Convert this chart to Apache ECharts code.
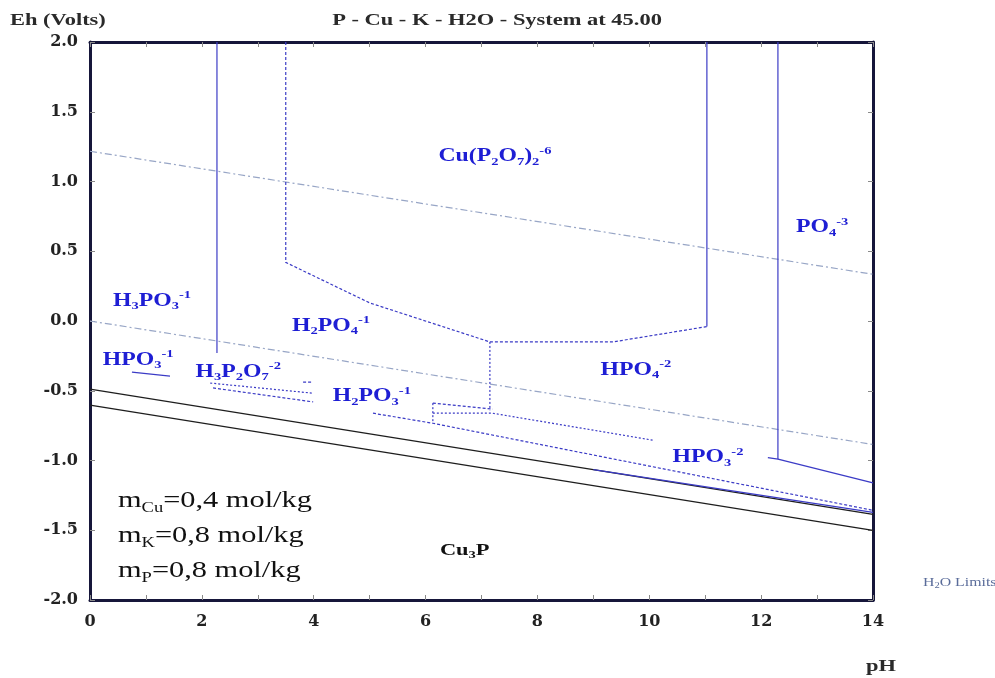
<!DOCTYPE html>
<html>
<head>
<meta charset="utf-8">
<script src="https://cdn.jsdelivr.net/npm/echarts@6/dist/echarts.min.js"></script>
<style>
  html, body { margin: 0; padding: 0; background: #ffffff; }
  #chart { width: 995px; height: 678px; }
</style>
</head>
<body>
<div id="chart"></div>
<script>
// Axis tick labels
const phTicks = [0, 2, 4, 6, 8, 10, 12, 14];
const ehTicks = [-2.0, -1.5, -1.0, -0.5, 0.0, 0.5, 1.0, 1.5, 2.0];

// Water stability limits, [pH, Eh]
const h2oUpper = [[0, 1.217], [14, 0.335]];
const h2oLower = [[0, 0.0], [14, -0.885]];

// Cu3P boundaries
const cu3pUpper = [[0, -0.489], [14, -1.386]];
const cu3pLower = [[0, -0.603], [14, -1.501]];

// Aqueous species boundaries
const h3po3Edge = [[2.27, 2.0], [2.27, -0.23]];
const cuComplexEdge = [[3.5, 2.0], [3.5, 0.42], [5.0, 0.13], [7.15, -0.15], [9.35, -0.15], [11.03, -0.04]];
const cuComplexRight = [[11.03, -0.04], [11.03, 2.0]];
const hpo4Edge = [[7.15, -0.15], [7.15, -0.64]];
const po4Edge = [[12.3, 2.0], [12.3, -0.99]];
const po4Lower = [[12.12, -0.98], [12.3, -0.99], [14, -1.16]];
const hpo3Mark = [[0.75, -0.366], [1.43, -0.395]];
const pyroUpper = [[2.15, -0.445], [3.97, -0.517]];
const pyroLower = [[2.2, -0.48], [3.99, -0.58]];
const pyroDash = [[3.81, -0.438], [3.97, -0.438]];
const h2po3Upper = [[6.13, -0.589], [7.2, -0.632]];
const h2po3Mid = [[6.13, -0.661], [7.2, -0.661], [10.07, -0.855]];
const h2po3Lower = [[5.06, -0.661], [6.13, -0.733], [14, -1.357]];
const h2po3Tick = [[6.13, -0.589], [6.13, -0.733]];
const hpo3Lower = [[9.0, -1.066], [14, -1.372]];

// Aqueous field names (rich-text markup) and anchors [pH, Eh]
const aqNames = [
  '{b|Cu(P}{s|2}{b|O}{s|7}{b|)}{s|2}{p|-6}',
  '{b|PO}{s|4}{p|-3}',
  '{b|H}{s|3}{b|PO}{s|3}{p|-1}',
  '{b|H}{s|2}{b|PO}{s|4}{p|-1}',
  '{b|HPO}{s|3}{p|-1}',
  '{b|H}{s|3}{b|P}{s|2}{b|O}{s|7}{p|-2}',
  '{b|H}{s|2}{b|PO}{s|3}{p|-1}',
  '{b|HPO}{s|4}{p|-2}',
  '{b|HPO}{s|3}{p|-2}'
];
const aqPos = [
  [7.24, 1.18], [13.09, 0.67], [1.11, 0.144], [4.31, -0.036], [0.86, -0.28],
  [2.65, -0.366], [5.04, -0.54], [9.76, -0.352], [11.05, -0.977]
];

// Solid field
const solidNames = ['{b|Cu}{s|3}{b|P}'];
const solidPos = [[6.7, -1.645]];

const textScale = 1.32;
const serif = 'Liberation Serif';

function richStyles(size, weight, color) {
  const sub = Math.round(size * 0.62);
  return {
    b: { fontSize: size, fontFamily: serif, fontWeight: weight, fill: color, lineHeight: size + 4, verticalAlign: 'middle' },
    s: { fontSize: sub, fontFamily: serif, fontWeight: weight, fill: color, lineHeight: size + 4, verticalAlign: 'bottom' },
    p: { fontSize: sub, fontFamily: serif, fontWeight: weight, fill: color, lineHeight: size + 4, verticalAlign: 'top' }
  };
}

function labelSeries(names, positions, color, size) {
  return {
    type: 'custom',
    coordinateSystem: 'cartesian2d',
    xAxisIndex: 0, yAxisIndex: 0,
    clip: false,
    silent: true,
    z: 20,
    data: positions.map((p, i) => [p[0], p[1], i]),
    renderItem: function (params, api) {
      const pt = api.coord([api.value(0), api.value(1)]);
      return {
        type: 'text',
        x: pt[0], y: pt[1],
        scaleX: textScale,
        style: {
          text: names[api.value(2)],
          fill: color,
          align: 'center',
          verticalAlign: 'middle',
          rich: richStyles(size, 'bold', color)
        }
      };
    }
  };
}

function boundary(data, color, type, width) {
  return {
    type: 'line',
    data: data,
    showSymbol: false,
    symbol: 'none',
    silent: true,
    animation: false,
    lineStyle: { color: color, type: type, width: width },
    z: 5
  };
}

const blue = '#3b3bc6';
const h2oColor = '#98a6c6';
const dashDot = [7, 3, 2, 3];

const chart = echarts.init(document.getElementById('chart'), null, { renderer: 'canvas' });

const axisLineStyle = { color: '#16163a', width: 3 };
const tickStyle = { color: '#8a8a8a', width: 1 };

chart.setOption({
  animation: false,
  backgroundColor: '#ffffff',
  grid: { left: 90, right: 122, top: 42, bottom: 78, containLabel: false },
  xAxis: [
    {
      type: 'value', min: 0, max: 14, interval: 1, position: 'bottom',
      axisLine: { show: true, onZero: false, lineStyle: axisLineStyle },
      axisTick: { show: true, inside: true, length: 5, lineStyle: tickStyle },
      axisLabel: {
        show: true, margin: 14, color: '#222',
        fontFamily: 'DejaVu Serif', fontWeight: 'bold', fontSize: 16,
        formatter: v => (phTicks.indexOf(v) >= 0 ? String(v) : '')
      },
      splitLine: { show: false }
    },
    {
      type: 'value', min: 0, max: 14, interval: 1, position: 'top',
      axisLine: { show: true, onZero: false, lineStyle: axisLineStyle },
      axisTick: { show: true, inside: true, length: 5, lineStyle: tickStyle },
      axisLabel: { show: false },
      splitLine: { show: false }
    }
  ],
  yAxis: [
    {
      type: 'value', min: -2, max: 2, interval: 0.5, position: 'left',
      axisLine: { show: true, onZero: false, lineStyle: axisLineStyle },
      axisTick: { show: true, inside: true, length: 5, lineStyle: tickStyle },
      axisLabel: {
        show: true, margin: 12, color: '#222',
        fontFamily: 'DejaVu Serif', fontWeight: 'bold', fontSize: 16,
        formatter: v => {
          const t = ehTicks.find(e => Math.abs(e - v) < 1e-9);
          return t === undefined ? '' : t.toFixed(1);
        }
      },
      splitLine: { show: false }
    },
    {
      type: 'value', min: -2, max: 2, interval: 0.5, position: 'right',
      axisLine: { show: true, onZero: false, lineStyle: axisLineStyle },
      axisTick: { show: true, inside: true, length: 5, lineStyle: tickStyle },
      axisLabel: { show: false },
      splitLine: { show: false }
    }
  ],
  series: [
    boundary(h2oUpper, h2oColor, dashDot, 1.2),
    boundary(h2oLower, h2oColor, dashDot, 1.2),
    boundary(cu3pUpper, '#1e1e1e', 'solid', 1.3),
    boundary(cu3pLower, '#1e1e1e', 'solid', 1.3),
    boundary(h3po3Edge, blue, 'solid', 1.2),
    boundary(cuComplexEdge, blue, [3, 2], 1.2),
    boundary(cuComplexRight, blue, 'solid', 1.2),
    boundary(hpo4Edge, blue, [2, 2], 1.2),
    boundary(po4Edge, blue, 'solid', 1.2),
    boundary(po4Lower, blue, 'solid', 1.2),
    boundary(hpo3Mark, blue, 'solid', 1.2),
    boundary(pyroUpper, blue, [2, 2], 1.2),
    boundary(pyroLower, blue, [3, 2], 1.2),
    boundary(pyroDash, blue, [3, 2], 1.2),
    boundary(h2po3Upper, blue, [3, 2], 1.2),
    boundary(h2po3Mid, blue, [2, 2], 1.2),
    boundary(h2po3Lower, blue, [3, 2], 1.2),
    boundary(h2po3Tick, blue, [2, 2], 1.2),
    boundary(hpo3Lower, blue, 'solid', 1.3),
    labelSeries(aqNames, aqPos, '#1e1ed4', 18),
    labelSeries(solidNames, solidPos, '#111111', 17)
  ],
  graphic: [
    {
      type: 'text', x: 10, y: 21, scaleX: textScale, silent: true,
      style: { text: 'Eh (Volts)', fill: '#2a2a2a', font: 'bold 17px "Liberation Serif"', align: 'left', verticalAlign: 'middle' }
    },
    {
      type: 'text', x: 497, y: 21, scaleX: textScale, silent: true,
      style: { text: 'P - Cu - K - H2O - System at 45.00', fill: '#2a2a2a', font: 'bold 17px "Liberation Serif"', align: 'center', verticalAlign: 'middle' }
    },
    {
      type: 'text', x: 881, y: 667, scaleX: textScale, silent: true,
      style: { text: 'pH', fill: '#2a2a2a', font: 'bold 17px "Liberation Serif"', align: 'center', verticalAlign: 'middle' }
    },
    {
      type: 'text', x: 923, y: 583, scaleX: textScale, silent: true,
      style: {
        text: '{a|H}{s|2}{a|O Limits}', align: 'left', verticalAlign: 'middle',
        rich: {
          a: { fontSize: 12, fontFamily: serif, fill: '#5a6c9a', lineHeight: 14, verticalAlign: 'middle' },
          s: { fontSize: 8, fontFamily: serif, fill: '#5a6c9a', lineHeight: 14, verticalAlign: 'bottom' }
        }
      }
    },
    {
      type: 'text', x: 118, y: 501, scaleX: textScale, silent: true,
      style: {
        text: '{a|m}{s|Cu}{a|=0,4 mol/kg}', align: 'left', verticalAlign: 'middle',
        rich: {
          a: { fontSize: 23, fontFamily: serif, fill: '#111', lineHeight: 28, verticalAlign: 'middle' },
          s: { fontSize: 14, fontFamily: serif, fill: '#111', lineHeight: 28, verticalAlign: 'bottom' }
        }
      }
    },
    {
      type: 'text', x: 118, y: 536, scaleX: textScale, silent: true,
      style: {
        text: '{a|m}{s|K}{a|=0,8 mol/kg}', align: 'left', verticalAlign: 'middle',
        rich: {
          a: { fontSize: 23, fontFamily: serif, fill: '#111', lineHeight: 28, verticalAlign: 'middle' },
          s: { fontSize: 14, fontFamily: serif, fill: '#111', lineHeight: 28, verticalAlign: 'bottom' }
        }
      }
    },
    {
      type: 'text', x: 118, y: 571, scaleX: textScale, silent: true,
      style: {
        text: '{a|m}{s|P}{a|=0,8 mol/kg}', align: 'left', verticalAlign: 'middle',
        rich: {
          a: { fontSize: 23, fontFamily: serif, fill: '#111', lineHeight: 28, verticalAlign: 'middle' },
          s: { fontSize: 14, fontFamily: serif, fill: '#111', lineHeight: 28, verticalAlign: 'bottom' }
        }
      }
    }
  ]
});
</script>
</body>
</html>
